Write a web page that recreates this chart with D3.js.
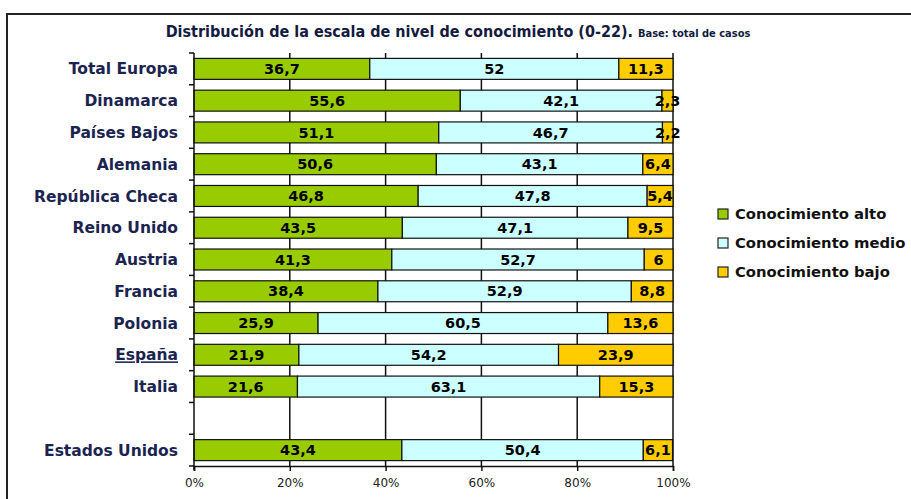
<!DOCTYPE html>
<html>
<head>
<meta charset="utf-8">
<script src="https://cdn.jsdelivr.net/npm/d3@7"></script>
<style>
  body { margin: 0; background: #fff; }
  svg { display: block; }
</style>
</head>
<body>
<svg id="chart" width="911" height="499"></svg>
<script>
// categories, top to bottom ("" is the blank spacer row)
const countries = ["Total Europa", "Dinamarca", "Países Bajos", "Alemania", "República Checa",
  "Reino Unido", "Austria", "Francia", "Polonia", "España", "Italia", "", "Estados Unidos"];
const alto  = [36.7, 55.6, 51.1, 50.6, 46.8, 43.5, 41.3, 38.4, 25.9, 21.9, 21.6, null, 43.4];
const medio = [52, 42.1, 46.7, 43.1, 47.8, 47.1, 52.7, 52.9, 60.5, 54.2, 63.1, null, 50.4];
const bajo  = [11.3, 2.3, 2.2, 6.4, 5.4, 9.5, 6, 8.8, 13.6, 23.9, 15.3, null, 6.1];
const seriesNames = ["Conocimiento alto", "Conocimiento medio", "Conocimiento bajo"];
const xTicks = [0, 20, 40, 60, 80, 100];

const colors = ["#99cc00", "#ccffff", "#ffcc00"];
const svg = d3.select("#chart");
const margin = { top: 53, left: 194, right: 238, bottom: 33 };
const width = 911, height = 499;
const plotBottom = height - margin.bottom;

// frame
svg.append("path")
  .attr("d", `M7,${height + 5} V14 H${width + 5}`)
  .attr("fill", "none").attr("stroke", "#222").attr("stroke-width", 2);

// title
const title = svg.append("text")
  .attr("x", 458).attr("y", 37)
  .attr("text-anchor", "middle")
  .attr("fill", "#141a40")
  .style("font-family", "'Liberation Sans Narrow', 'DejaVu Sans Condensed', sans-serif")
  .style("font-weight", "bold");
title.append("tspan").style("font-size", "16px")
  .text("Distribución de la escala de nivel de conocimiento (0-22). ");
title.append("tspan").style("font-size", "11px").text("Base: total de casos");

const x = d3.scaleLinear().domain([0, 100]).range([margin.left, width - margin.right]);
const yBand = d3.scaleBand().domain(countries).range([margin.top, plotBottom]);
const y = d3.scaleBand().domain(countries).range([margin.top, plotBottom])
  .paddingInner(0.34).paddingOuter(0.17);

// vertical gridlines
svg.append("g").selectAll("line")
  .data(xTicks.slice(1))
  .join("line")
  .attr("x1", d => x(d)).attr("x2", d => x(d))
  .attr("y1", margin.top).attr("y2", plotBottom)
  .attr("stroke", "#111").attr("stroke-width", 1.5);

// stacked rows
const rows = countries.map((c, i) => ({ c, vals: [alto[i], medio[i], bajo[i]] }))
  .filter(r => r.vals[0] != null);

rows.forEach(r => {
  let acc = 0;
  r.vals.forEach((v, k) => {
    const x0 = acc, x1 = acc + v;
    acc = x1;
    svg.append("rect")
      .attr("x", x(x0)).attr("y", y(r.c))
      .attr("width", x(Math.min(x1, 100)) - x(x0))
      .attr("height", y.bandwidth())
      .attr("fill", colors[k])
      .attr("stroke", "#111").attr("stroke-width", 1.2);
    svg.append("text")
      .attr("x", (x(x0) + x(Math.min(x1, 100))) / 2)
      .attr("y", y(r.c) + y.bandwidth() / 2)
      .attr("dy", "0.36em")
      .attr("text-anchor", "middle")
      .attr("fill", "#000")
      .style("font-family", "'DejaVu Sans', Verdana, sans-serif")
      .style("font-weight", "bold")
      .style("font-size", "14.5px")
      .text(String(v).replace(".", ","));
  });
});

// left axis with ticks at band boundaries
const boundaries = countries.map(c => yBand(c)).concat([plotBottom]);
svg.append("line")
  .attr("x1", margin.left).attr("x2", margin.left)
  .attr("y1", margin.top).attr("y2", plotBottom + 4)
  .attr("stroke", "#111").attr("stroke-width", 1.5);
svg.append("g").selectAll("line")
  .data(boundaries)
  .join("line")
  .attr("x1", margin.left - 5).attr("x2", margin.left)
  .attr("y1", d => d).attr("y2", d => d)
  .attr("stroke", "#111").attr("stroke-width", 1.5);

// category labels
svg.append("g").selectAll("text")
  .data(countries.filter(c => c !== ""))
  .join("text")
  .attr("x", 178)
  .attr("y", d => yBand(d) + yBand.bandwidth() / 2)
  .attr("dy", "0.36em")
  .attr("text-anchor", "end")
  .attr("fill", "#1b2450")
  .style("font-family", "'DejaVu Sans', Verdana, sans-serif")
  .style("font-weight", "bold")
  .style("font-size", "15.5px")
  .style("text-decoration", d => d === "España" ? "underline" : null)
  .text(d => d);

// bottom axis
const xAxis = d3.axisBottom(x).tickValues(xTicks).tickSize(5).tickFormat(d => d + "%");
const gx = svg.append("g").attr("transform", `translate(0,${plotBottom})`).call(xAxis);
gx.select(".domain").attr("stroke", "#111").attr("stroke-width", 1.5);
gx.selectAll(".tick line").attr("stroke", "#111").attr("stroke-width", 1.5);
gx.selectAll(".tick text")
  .attr("y", 12)
  .attr("fill", "#222")
  .style("font-family", "'DejaVu Sans', Verdana, sans-serif")
  .style("font-size", "12px");

// legend
const legend = svg.append("g").attr("transform", "translate(718,214)");
seriesNames.forEach((s, i) => {
  const g = legend.append("g").attr("transform", `translate(0,${i * 29})`);
  g.append("rect").attr("x", 0).attr("y", -5).attr("width", 10).attr("height", 10)
    .attr("fill", colors[i]).attr("stroke", "#222").attr("stroke-width", 1.2);
  g.append("text").attr("x", 17).attr("y", 0).attr("dy", "0.36em")
    .attr("fill", "#111")
    .style("font-family", "'DejaVu Sans', Verdana, sans-serif")
    .style("font-weight", "bold")
    .style("font-size", "14.8px")
    .text(s);
});
</script>
</body>
</html>
